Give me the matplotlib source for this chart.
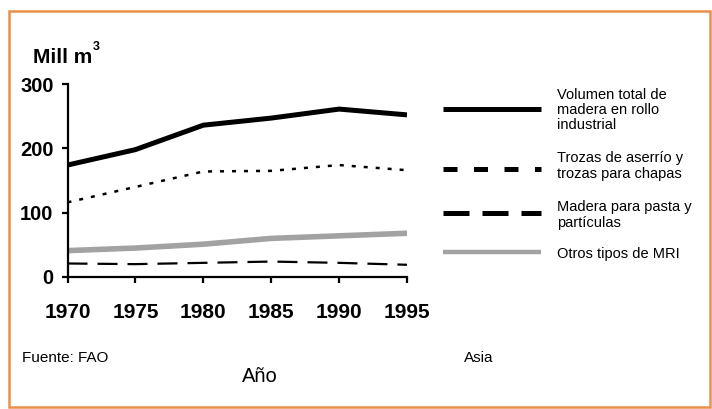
import matplotlib

matplotlib.use("Agg")
import matplotlib.pyplot as plt
from matplotlib.lines import Line2D
from matplotlib.patches import Rectangle

YEARS = [1970, 1975, 1980, 1985, 1990, 1995]
TOTAL = [174, 198, 236, 247, 261, 252]
TROZAS = [116, 140, 164, 165, 174, 166]
PASTA = [21, 20, 22, 24, 22, 19]
OTROS = [41, 45, 51, 60, 64, 68]

LABELS = [
    "Volumen total de\nmadera en rollo\nindustrial",
    "Trozas de aserrío y\ntrozas para chapas",
    "Madera para pasta y\npartículas",
    "Otros tipos de MRI",
]
Y_TICKS = [0, 100, 200, 300]

W, H = 712, 409
SANS = ["Liberation Sans", "DejaVu Sans"]
GRAY = "#a2a2a2"


def fx(px):
    return px / W


def fy(py):
    return 1 - py / H


fig = plt.figure(figsize=(W / 100, H / 100), dpi=100)
ax = fig.add_axes([fx(67.5), fy(277), fx(407) - fx(67.5), fy(84) - fy(277)])

ax.plot(YEARS, OTROS, color=GRAY, lw=4, solid_capstyle="butt", zorder=2)
ax.plot(YEARS, PASTA, color="black", lw=1.6, linestyle=(0, (9, 4.5)), zorder=3)
ax.plot(YEARS, TROZAS, color="black", lw=1.8, linestyle=(0, (1.6, 3.2)), zorder=3)
ax.plot(YEARS, TOTAL, color="black", lw=3.6, solid_capstyle="butt", zorder=4)

ax.set_xlim(YEARS[0], YEARS[-1])
ax.set_ylim(0, 300)
ax.set_xticks(YEARS)
ax.set_yticks(Y_TICKS)
for s in ["top", "right"]:
    ax.spines[s].set_visible(False)
for s in ["left", "bottom"]:
    ax.spines[s].set_linewidth(1.6)
ax.tick_params(axis="both", direction="out", length=4, width=1.6)
ax.tick_params(axis="y", pad=6)
ax.tick_params(axis="x", pad=15)
for lab in ax.get_yticklabels():
    lab.set_fontfamily(SANS)
    lab.set_fontweight("bold")
    lab.set_fontsize(14.5)
for lab in ax.get_xticklabels():
    lab.set_fontfamily(SANS)
    lab.set_fontweight("bold")
    lab.set_fontsize(15)

# unit label
fig.text(fx(33), fy(63), "Mill m", family=SANS, weight="bold", fontsize=15, va="baseline")
fig.text(fx(93), fy(50), "3", family=SANS, weight="bold", fontsize=9, va="baseline")

# legend drawn by hand
styles = [
    dict(color="black", lw=3.6, solid_capstyle="butt"),
    dict(color="black", lw=3.6, linestyle=(0, (2.8, 3.3)), dash_capstyle="butt"),
    dict(color="black", lw=3.6, linestyle=(0, (5.2, 2.6)), dash_capstyle="butt"),
    dict(color=GRAY, lw=3.2, solid_capstyle="butt"),
]
line_y = [109, 169, 213, 252]
text_y = [110, 166, 215, 254]
for lbl, st, ly, ty in zip(LABELS, styles, line_y, text_y):
    fig.add_artist(Line2D([fx(443), fx(541)], [fy(ly), fy(ly)], transform=fig.transFigure, **st))
    fig.text(fx(557), fy(ty), lbl, family=SANS, fontsize=10.5, va="center", ha="left",
             linespacing=1.1)

fig.text(fx(22), fy(358), "Fuente: FAO", family=SANS, fontsize=11, va="center")
fig.text(fx(464), fy(358), "Asia", family=SANS, fontsize=11, va="center")
fig.text(fx(260), fy(376), "Año", family=SANS, fontsize=14.5, va="center", ha="center")

fig.add_artist(Rectangle((fx(9), fy(407)), fx(710) - fx(9), fy(11) - fy(407),
                         transform=fig.transFigure, fill=False, edgecolor="#e8904a", lw=1.8))

fig.savefig("out.png", dpi=100)
